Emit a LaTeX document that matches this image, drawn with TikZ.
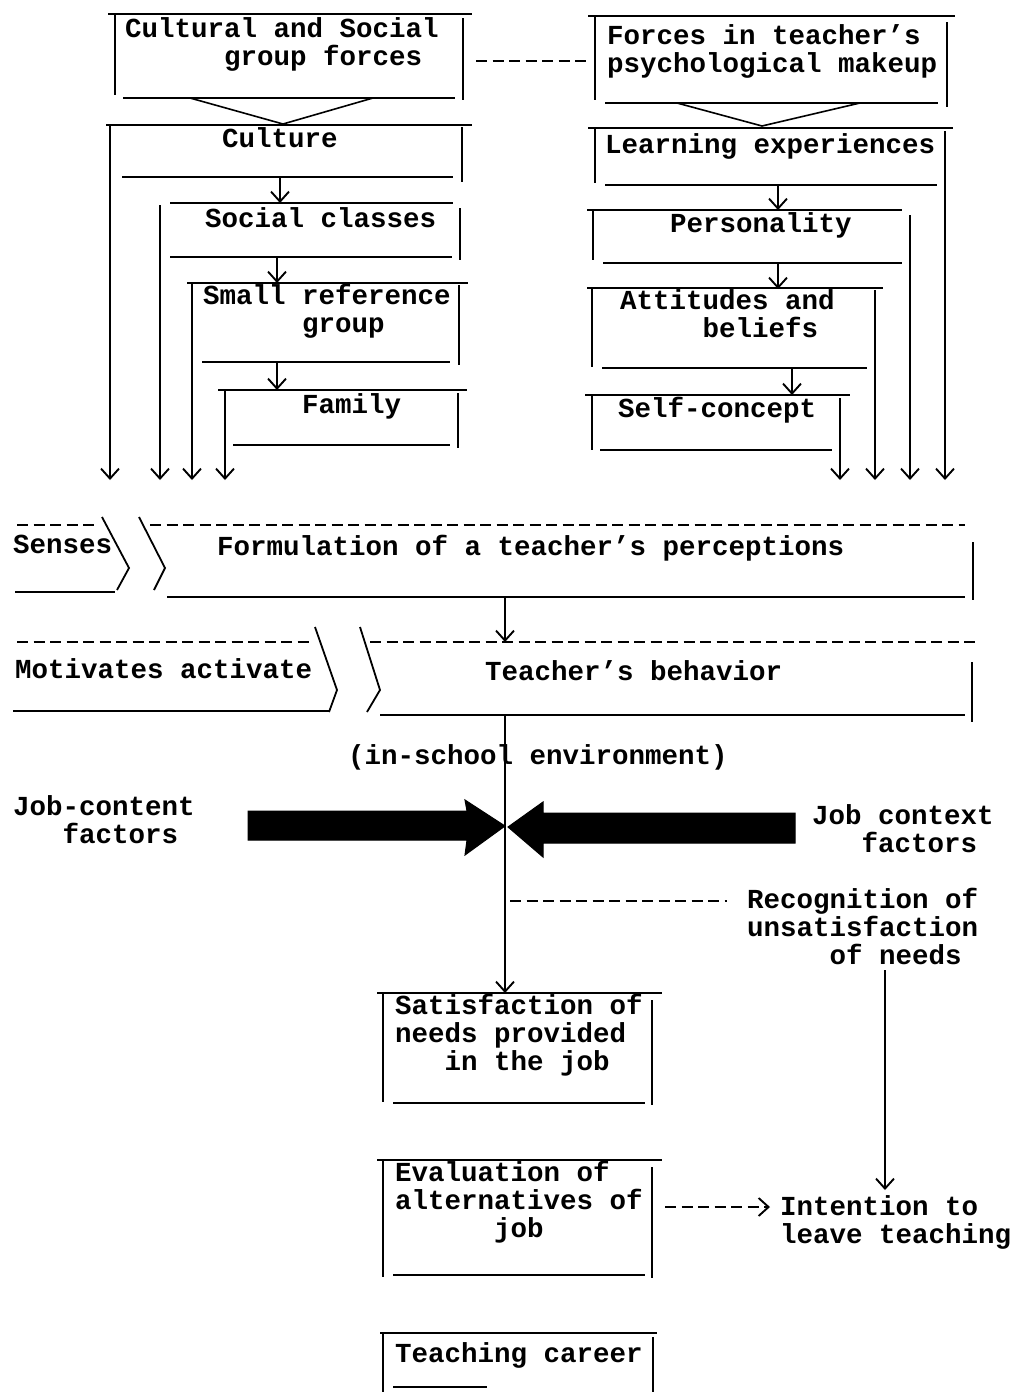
\documentclass[tikz,border=0pt]{standalone}
\usepackage{fontspec}
\setmonofont{Liberation Mono}
\usetikzlibrary{arrows.meta}
\newcommand{\tab}[1]{\hspace*{#1\dimexpr0.6em\relax}}

\begin{document}
\begin{tikzpicture}[x=1pt,y=-1pt,
    txt/.style={font=\ttfamily\bfseries\fontsize{27.5}{28}\selectfont,
        inner sep=0pt,anchor=base west,align=left},
    rule/.style={line width=2.2pt},
    arr/.style={line width=1.9pt,-{Straight Barb[length=10pt,width=18pt]}},
    typed/.style={line width=2pt,dash pattern=on 11pt off 5.5pt},
    fat/.style={fill=black,draw=black,line width=1pt}]
    \useasboundingbox (0,0) rectangle (1017,1392);

    % cultural side
    \node[txt] (csf) at (125,65) {Cultural and Social\\\tab5 group forces};
    \draw[rule] (108,14) -- (472,14) (115,14) -- (115,95)
        (463,18) -- (463,100) (123,98) -- (455,98);
    \draw[line width=1.6pt] (190,98) -- (283,124) -- (373,98);
    \node[txt] (cul) at (222,147) {Culture};
    \draw[rule] (106,125) -- (472,125) (462,127) -- (462,182) (122,177) -- (453,177);
    \node[txt] (soc) at (205,227) {Social classes};
    \draw[rule] (170,203) -- (453,203) (460,208) -- (460,260) (170,257) -- (452,257);
    \node[txt] (srg) at (203,332) {Small reference\\\tab5 group};
    \draw[rule] (187,283) -- (468,283) (459,285) -- (459,365) (202,362) -- (450,362);
    \node[txt] (fam) at (302,413) {Family};
    \draw[rule] (218,390) -- (467,390) (458,393) -- (458,448) (233,445) -- (450,445);

    \coordinate (cul-s) at (280,177);
    \coordinate (soc-n) at (280,203);
    \coordinate (soc-s) at (277,257);
    \coordinate (srg-n) at (277,283);
    \coordinate (srg-s) at (277,362);
    \coordinate (fam-n) at (277,390);
    \draw[arr] (cul-s) -- (soc-n);
    \draw[arr] (soc-s) -- (srg-n);
    \draw[arr] (srg-s) -- (fam-n);

    \coordinate (cul-w) at (110,125);
    \coordinate (soc-w) at (160,205);
    \coordinate (srg-w) at (192,283);
    \coordinate (fam-w) at (225,390);
    \foreach \c in {cul-w,soc-w,srg-w,fam-w}
        \draw[arr] (\c) -- (\c |- 0,480);

    % psychological side
    \node[txt] (fpm) at (607,72) {Forces in teacher’s\\psychological makeup};
    \draw[rule] (588,16) -- (955,16) (595,16) -- (595,100)
        (947,22) -- (947,107) (605,103) -- (938,103);
    \draw[line width=1.6pt] (677,103) -- (762,126) -- (860,103);
    \draw[typed] (476,61) -- (588,61);
    \node[txt] (lex) at (605,153) {Learning experiences};
    \draw[rule] (588,128) -- (953,128) (595,128) -- (595,183) (605,185) -- (937,185);
    \node[txt] (pers) at (670,232) {Personality};
    \draw[rule] (587,210) -- (902,210) (593,210) -- (593,260) (603,263) -- (902,263);
    \node[txt] (att) at (620,337) {Attitudes and\\\tab4 beliefs};
    \draw[rule] (587,288) -- (883,288) (592,288) -- (592,367) (602,368) -- (867,368);
    \node[txt] (sco) at (618,417) {Self-concept};
    \draw[rule] (585,395) -- (850,395) (592,395) -- (592,450) (600,450) -- (832,450);

    \coordinate (lex-s) at (778,185);
    \coordinate (pers-n) at (778,210);
    \coordinate (pers-s) at (778,263);
    \coordinate (att-n) at (778,289);
    \coordinate (att-s) at (792,368);
    \coordinate (sco-n) at (792,395);
    \draw[arr] (lex-s) -- (pers-n);
    \draw[arr] (pers-s) -- (att-n);
    \draw[arr] (att-s) -- (sco-n);

    \coordinate (lex-e) at (945,131);
    \coordinate (pers-e) at (910,215);
    \coordinate (att-e) at (875,290);
    \coordinate (sco-e) at (840,398);
    \foreach \c in {lex-e,pers-e,att-e,sco-e}
        \draw[arr] (\c) -- (\c |- 0,480);

    % perceptions
    \node[txt] (sen) at (13,553) {Senses};
    \node[txt] (percep) at (217,555) {Formulation of a teacher’s perceptions};
    \draw[typed] (17,525) -- (97,525) (150,525) -- (965,525);
    \draw[line width=1.8pt] (102,517) -- (129,568) -- (117,590)
        (139,517) -- (165,568) -- (154,590);
    \draw[rule] (15,592) -- (115,592) (167,597) -- (965,597) (973,542) -- (973,600);

    % behavior
    \node[txt] (motiv) at (15,678) {Motivates activate};
    \node[txt] (behav) at (485,680) {Teacher’s behavior};
    \draw[typed] (17,642) -- (313,642) (370,642) -- (980,642);
    \draw[line width=1.8pt] (315,627) -- (337,690) -- (329,712)
        (360,627) -- (380,690) -- (367,712);
    \draw[rule] (13,711) -- (330,711) (380,715) -- (965,715) (972,662) -- (972,722);

    \coordinate (percep-s) at (505,597);
    \coordinate (behav-n) at (505,642);
    \coordinate (behav-s) at (505,715);
    \coordinate (satis-n) at (505,993);
    \draw[arr] (percep-s) -- (behav-n);

    % in-school environment
    \node[txt] (insch) at (348,764) {(in-school environment)};
    \draw[arr] (behav-s) -- (satis-n);
    \node[txt] (jcontent) at (13,843) {Job-content\\\tab2 factors};
    \node[txt] (jcontext) at (812,852) {Job context\\\tab2 factors};
    \draw[fat] (248,811) -- (467,811) -- (465,800) -- (505,826) -- (465,855)
        -- (467,840) -- (248,840) -- cycle;
    \draw[fat] (508,827) -- (543,802) -- (543,813) -- (795,813) -- (795,843)
        -- (543,843) -- (543,857) -- cycle;

    \node[txt] (recog) at (747,964) {Recognition of\\unsatisfaction\\\tab4 of needs};
    \draw[typed] (510,901) -- (727,901);

    % outcomes
    \node[txt] (satis) at (395,1070) {Satisfaction of\\needs provided\\\tab2 in the job};
    \draw[rule] (377,993) -- (662,993) (383,993) -- (383,1102)
        (652,1000) -- (652,1105) (393,1103) -- (645,1103);
    \node[txt] (evalu) at (395,1237) {Evaluation of\\alternatives of\\\tab5 job};
    \draw[rule] (377,1160) -- (662,1160) (383,1160) -- (383,1277)
        (652,1167) -- (652,1278) (393,1275) -- (645,1275);
    \node[txt] (intent) at (780,1243) {Intention to\\leave teaching};
    \node[txt] (career) at (395,1362) {Teaching career};
    \draw[rule] (380,1333) -- (657,1333) (383,1333) -- (383,1392)
        (653,1337) -- (653,1392) (393,1387) -- (487,1387);

    \coordinate (recog-s) at (885,970);
    \coordinate (intent-n) at (885,1190);
    \coordinate (evalu-e) at (665,1207);
    \coordinate (intent-w) at (770,1207);
    \draw[arr] (recog-s) -- (intent-n);
    \draw[arr,dash pattern=on 11pt off 5.5pt] (evalu-e) -- (intent-w);
\end{tikzpicture}
\end{document}
